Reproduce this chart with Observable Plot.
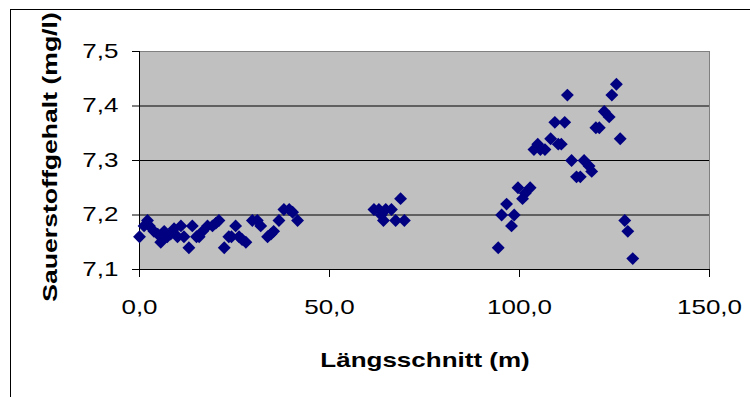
<!DOCTYPE html>
<html>
<head>
<meta charset="utf-8">
<script src="https://cdn.jsdelivr.net/npm/d3@7"></script>
<script src="https://cdn.jsdelivr.net/npm/@observablehq/plot@0.6"></script>
<style>
  html, body { margin: 0; padding: 0; background: white; overflow: hidden; }
  #chart svg { display: block; }
</style>
</head>
<body>
<div id="chart"></div>
<script>
// Längsschnitt (m)
const laengsschnitt = [
  0, 1.2, 2.1, 2.6, 3.8, 4.8, 5.6, 6.5, 7.3, 8.2, 9.1, 10, 10.9, 11.7, 13, 13.9, 15, 15.7, 16.6, 17.9,
  19.2, 20.1, 20.9, 22.3, 23.5, 24.2, 25.3, 26.2, 27, 28, 29.7, 31, 31.9, 33.7, 34.6, 35.3, 36.7, 38,
  39.4, 40.3, 41.6,
  61.7, 63, 63.6, 64.2, 64.8, 66.3, 67.4, 68.7, 69.7,
  94.4, 95.3, 96.6, 97.9, 98.6, 99.6, 100.8, 101.5, 102.8, 103.8, 104.8, 105.5, 106.7, 108.2, 109.3,
  110.2, 111, 111.9, 112.6, 113.7, 115, 116, 117, 118.3, 119, 120.1, 121, 122.3, 123.6, 124.3, 125.5,
  126.5, 127.7, 128.5, 129.8
];
// Sauerstoffgehalt (mg/l)
const sauerstoff = [
  7.16, 7.18, 7.19, 7.18, 7.17, 7.165, 7.15, 7.17, 7.16, 7.165, 7.175, 7.16, 7.18, 7.16, 7.14, 7.18, 7.16, 7.16, 7.17, 7.18,
  7.18, 7.185, 7.19, 7.14, 7.16, 7.16, 7.18, 7.16, 7.155, 7.15, 7.19, 7.19, 7.18, 7.16, 7.165, 7.17, 7.19, 7.21,
  7.21, 7.205, 7.19,
  7.21, 7.21, 7.20, 7.19, 7.21, 7.21, 7.19, 7.23, 7.19,
  7.14, 7.20, 7.22, 7.18, 7.20, 7.25, 7.23, 7.24, 7.25, 7.32, 7.33, 7.32, 7.32, 7.34, 7.37,
  7.33, 7.33, 7.37, 7.42, 7.30, 7.27, 7.27, 7.30, 7.29, 7.28, 7.36, 7.36, 7.39, 7.38, 7.42, 7.44,
  7.34, 7.19, 7.17, 7.12
];
const xTicks = [0, 50, 100, 150];
const yTicks = [7.1, 7.2, 7.3, 7.4, 7.5];
const gridValues = [7.2, 7.3, 7.4];
const xTitle = "Längsschnitt (m)";
const yTitle = "Sauerstoffgehalt (mg/l)";

const data = laengsschnitt.map((x, i) => ({x, y: sauerstoff[i]}));
const comma = (d, n) => d.toFixed(n).replace(".", ",");

const FONT = "'Liberation Sans', Arial, sans-serif";
const STRETCH = 1.3;

const chart = Plot.plot({
  width: 750,
  height: 397,
  marginLeft: 139,
  marginRight: 41,
  marginTop: 51,
  marginBottom: 128,
  style: {fontFamily: FONT, fontSize: "20px", background: "white", overflow: "hidden"},
  x: {domain: [0, 150], axis: null},
  y: {domain: [7.1, 7.5], axis: null},
  marks: [
    Plot.frame({fill: "#C0C0C0", stroke: "#808080"}),
    Plot.gridY(gridValues, {stroke: "black", strokeOpacity: 1, strokeWidth: 1}),
    Plot.axisX(xTicks, {tickSize: 8, tickPadding: 22, tickFormat: d => comma(d, 1), fontSize: 20, label: null, stroke: "black", strokeOpacity: 1, fill: "black"}),
    Plot.axisY(yTicks, {tickSize: 7, tickPadding: 14, tickFormat: d => comma(d, 1), fontSize: 20, label: null, stroke: "black", strokeOpacity: 1, fill: "black"}),
    Plot.ruleY([7.1], {stroke: "black"}),
    Plot.ruleX([0], {stroke: "black"}),
    Plot.dot(data, {x: "x", y: "y", symbol: "diamond2", r: 5.8, fill: "#000080", stroke: "none"})
  ]
});

const svg = d3.select(chart);
// horizontally stretched text as in the reference
svg.selectAll("text").each(function() {
  const t = d3.select(this);
  const tr = t.attr("transform");
  if (tr) {
    t.attr("transform", tr + ` scale(${STRETCH},1)`);
  } else {
    const x = +t.attr("x") || 0, y = +t.attr("y") || 0;
    t.attr("x", null).attr("y", null).attr("transform", `translate(${x},${y}) scale(${STRETCH},1)`);
  }
});

// chart border
svg.insert("rect", ":first-child")
  .attr("x", 10.5).attr("y", 9.5).attr("width", 760).attr("height", 420)
  .attr("fill", "none").attr("stroke", "black");

// axis titles
svg.append("text")
  .attr("transform", `translate(425,367) scale(${STRETCH},1)`)
  .attr("text-anchor", "middle")
  .style("font", `bold 20px ${FONT}`)
  .attr("fill", "black")
  .text(xTitle);

svg.append("text")
  .attr("transform", `translate(57,157) rotate(-90) scale(1.33,1)`)
  .attr("text-anchor", "middle")
  .style("font", `bold 20px ${FONT}`)
  .attr("fill", "black")
  .text(yTitle);

document.getElementById("chart").appendChild(chart);
</script>
</body>
</html>
